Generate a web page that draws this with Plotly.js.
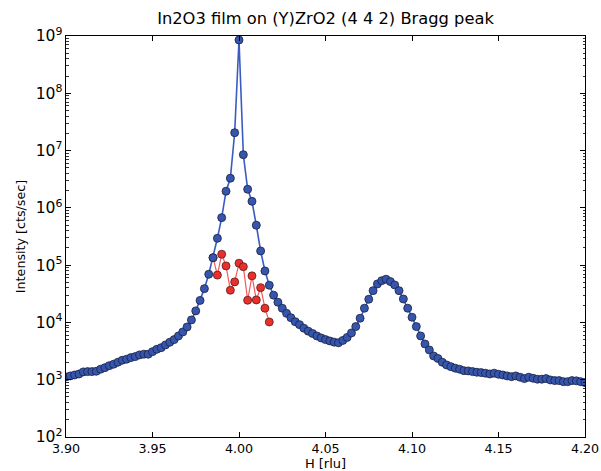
<!DOCTYPE html>
<html>
<head>
<meta charset="utf-8">
<script src="https://cdn.plot.ly/plotly-3.0.1.min.js"></script>
<style>html,body{margin:0;padding:0;background:#fff;}#chart{width:601px;height:471px;}</style>
</head>
<body>
<div id="chart"></div>
<script>
const H = [
 3.9000,3.9025,3.9050,3.9075,3.9100,3.9125,3.9150,3.9175,3.9200,3.9225,
 3.9250,3.9275,3.9300,3.9325,3.9350,3.9375,3.9400,3.9425,3.9450,3.9475,
 3.9500,3.9525,3.9550,3.9575,3.9600,3.9625,3.9650,3.9675,3.9700,3.9725,
 3.9750,3.9775,3.9800,3.9825,3.9850,3.9875,3.9900,3.9925,3.9950,3.9975,
 4.0000,4.0025,4.0050,4.0075,4.0100,4.0125,4.0150,4.0175,4.0200,4.0225,
 4.0250,4.0275,4.0300,4.0325,4.0350,4.0375,4.0400,4.0425,4.0450,4.0475,
 4.0500,4.0525,4.0550,4.0575,4.0600,4.0625,4.0650,4.0675,4.0700,4.0725,
 4.0750,4.0775,4.0800,4.0825,4.0850,4.0875,4.0900,4.0925,4.0950,4.0975,
 4.1000,4.1025,4.1050,4.1075,4.1100,4.1125,4.1150,4.1175,4.1200,4.1225,
 4.1250,4.1275,4.1300,4.1325,4.1350,4.1375,4.1400,4.1425,4.1450,4.1475,
 4.1500,4.1525,4.1550,4.1575,4.1600,4.1625,4.1650,4.1675,4.1700,4.1725,
 4.1750,4.1775,4.1800,4.1825,4.1850,4.1875,4.1900,4.1925,4.1950,4.1975,
 4.2000
];
const intensity = [
 1120,1165,1210,1260,1370,1385,1385,1405,1525,1625,
 1760,1865,2020,2190,2280,2430,2530,2710,2790,2790,
 3090,3400,3630,4050,4510,5010,5810,6820,8340,11070,
 15900,24200,38900,69300,135000,294000,675000,1950000,3290000,20500000,
 851000000,8470000,2110000,1300000,497000,177000,79200,44600,29900,22500,
 17700,14400,12100,10300,9150,7920,7050,6420,5810,5360,
 5010,4750,4530,4420,4850,5470,6560,8450,11840,17700,
 25400,35900,47000,53600,56700,51600,45100,35900,25700,17700,
 12330,8450,5810,4210,3310,2600,2350,2020,1810,1690,
 1590,1525,1440,1425,1385,1350,1330,1300,1260,1300,
 1245,1210,1165,1130,1165,1105,1045,1105,1060,1020,
 1020,1045,990,965,965,925,925,965,955,925,
 890
];
const H_film = [3.9850,3.9875,3.9900,3.9925,3.9950,3.9975,4.0000,4.0025,4.0050,4.0075,4.0100,4.0125,4.0150,4.0175];
const intensity_film = [135000,67000,155000,97000,36500,51000,108000,94000,24400,65000,24700,40500,17700,10200];

const xTickVals = [3.90,3.95,4.00,4.05,4.10,4.15,4.20];
const xTickText = ['3.90','3.95','4.00','4.05','4.10','4.15','4.20'];

const FONT = 'DejaVu Sans, sans-serif';

const traces = [
  {
    x: H_film, y: intensity_film, type: 'scatter', mode: 'lines+markers',
    line: {color: 'rgba(245,70,70,0.9)', width: 1.2},
    marker: {color: '#e8302c', size: 8, line: {color: '#5a1a1a', width: 0.8}},
    hoverinfo: 'skip', showlegend: false
  },
  {
    x: H, y: intensity, type: 'scatter', mode: 'lines+markers',
    line: {color: '#3a5cc2', width: 1.6},
    marker: {color: '#3656ae', size: 8, line: {color: '#1a1f40', width: 0.8}},
    hoverinfo: 'skip', showlegend: false
  }
];

const layout = {
  width: 601, height: 471,
  paper_bgcolor: '#fff', plot_bgcolor: '#fff',
  margin: {l: 66, r: 16, t: 36, b: 34, pad: 0},
  font: {family: FONT, size: 13, color: '#000'},
  title: {
    text: 'In2O3 film on (Y)ZrO2 (4 4 2) Bragg peak',
    font: {family: FONT, size: 16.3, color: '#000'},
    x: 0.5416, xref: 'container', xanchor: 'center',
    y: 1 - 18/471, yref: 'container', yanchor: 'middle'
  },
  xaxis: {
    range: [3.9, 4.2],
    tickmode: 'array', tickvals: xTickVals, ticktext: xTickText,
    ticks: 'inside', ticklen: 5, tickwidth: 1, tickcolor: '#000',
    showline: true, linecolor: '#000', linewidth: 1, mirror: 'ticks',
    showgrid: false, zeroline: false,
    tickfont: {family: FONT, size: 12.7, color: '#000'},
    title: {text: 'H [rlu]', font: {family: FONT, size: 13, color: '#000'}, standoff: 1}
  },
  yaxis: {
    type: 'log', range: [2, 9],
    tickmode: 'linear', tick0: 0, dtick: 1, exponentformat: 'power',
    ticks: 'inside', ticklen: 5, tickwidth: 1, tickcolor: '#000',
    minor: {ticks: 'inside', ticklen: 2.5, tickwidth: 0.8, tickcolor: '#000', dtick: 'D1', showgrid: false},
    showline: true, linecolor: '#000', linewidth: 1, mirror: 'ticks',
    showgrid: false, zeroline: false,
    tickfont: {family: FONT, size: 12.5, color: '#000'},
    title: {text: 'Intensity [cts/sec]', font: {family: FONT, size: 12.7, color: '#000'}, standoff: 7}
  }
};

Plotly.newPlot('chart', traces, layout, {displayModeBar: false, staticPlot: true});
</script>
</body>
</html>
